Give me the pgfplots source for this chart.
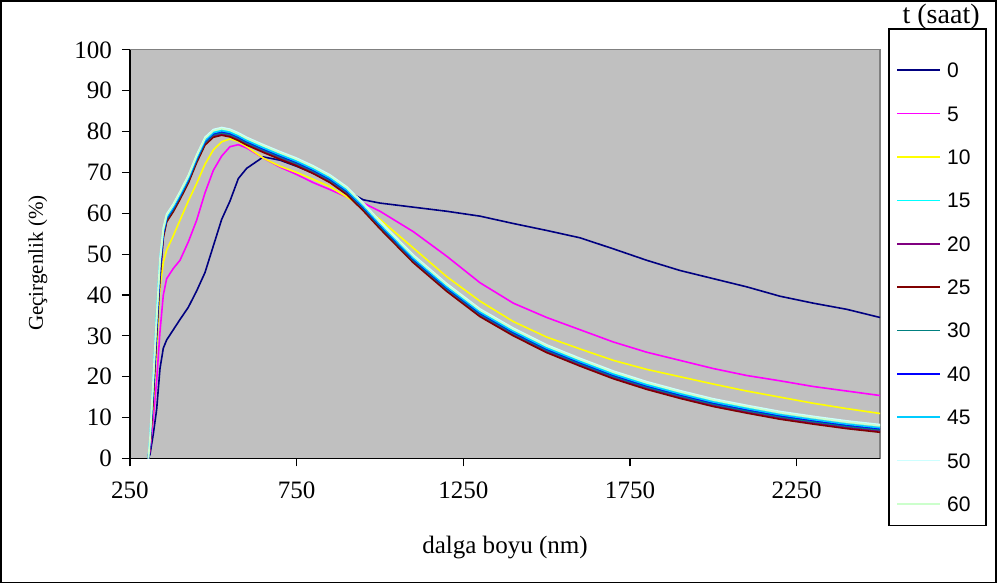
\documentclass[border=0pt]{standalone}
\usepackage{fontspec}
\setmainfont{Liberation Serif}
\newfontfamily\legfont{Liberation Sans}
\usepackage{pgfplots}
\usepackage{pgfplotstable}
\pgfplotsset{compat=1.18}

\definecolor{plotbg}{HTML}{C0C0C0}
\definecolor{c0}{HTML}{000080}
\definecolor{c5}{HTML}{FF00FF}
\definecolor{c10}{HTML}{FFFF00}
\definecolor{c15}{HTML}{00FFFF}
\definecolor{c20}{HTML}{800080}
\definecolor{c25}{HTML}{800000}
\definecolor{c30}{HTML}{008080}
\definecolor{c40}{HTML}{0000FF}
\definecolor{c45}{HTML}{00CCFF}
\definecolor{c50}{HTML}{CCFFFF}
\definecolor{c60}{HTML}{CCFFCC}

% transmittance (%) vs wavelength (nm), one column per time (h)
\pgfplotstableread{
x    s0   s5   s10  s15  s20  s25  s30  s40  s45  s50  s60
305  0    0    0    0    0    0    0    0    0    0    0
310  1    2    3    5    3    3    4    3.5  4.5  5    4.5
320  6    10   14   20   16   15   17   17   19   20   19
330  12   19   28   36   31   30   32   32   34   35   34
340  22   31   42   49   45   44   46   46   48   49   48
350  27   40   48   56   54.5 54   55   55   55.5 56.5 56
360  29   44   51   59.3 58.2 57.9 58.5 58.8 59   59.8 59.5
380  31.5 46.5 54.5 61.8 60.7 60.4 61   61.3 61.5 62.3 62
400  34   48.5 58.3 64.8 63.7 63.4 64   64.3 64.5 65.3 65
425  37   53   63   68.8 67.7 67.4 68   68.3 68.5 69.3 69
450  41   58.3 67.3 73.8 72.7 72.4 73   73.3 73.5 74.3 74
475  45.5 65   72   78.1 77   76.7 77.3 77.6 77.8 78.6 78.3
500  52   70.5 75.5 80   78.9 78.6 79.2 79.5 79.7 80.5 80.2
525  58.5 74   77.5 80.5 79.4 79.1 79.7 80   80.2 81   80.7
550  63   76.3 78.2 80.1 79   78.7 79.3 79.6 79.8 80.6 80.3
575  68.5 76.8 77.6 79.2 78.1 77.8 78.4 78.7 78.9 79.7 79.4
600  71   76   76.3 78.1 77   76.7 77.3 77.6 77.8 78.6 78.3
650  73.8 73.5 73.5 76.3 75.2 74.9 75.5 75.8 76   76.8 76.5
700  73   71.3 71.5 74.6 73.5 73.2 73.8 74.1 74.3 75.1 74.8
750  71.5 69.5 70   73   71.9 71.6 72.2 72.5 72.7 73.5 73.2
800  69.8 67.5 68.3 71.1 70   69.7 70.3 70.6 70.8 71.6 71.3
850  68   65.8 66.5 68.9 67.8 67.5 68.1 68.4 68.6 69.4 69.1
900  65.5 64   64   66   64.9 64.6 65.2 65.5 65.7 66.5 66.2
950  63.3 62.5 61.5 62   60.9 60.6 61.2 61.5 61.7 62.5 62.2
1000 62.5 60.5 58.5 57.6 56.5 56.2 56.8 57.1 57.3 58.1 57.8
1100 61.5 55.5 51.5 49.3 48.2 47.9 48.5 48.8 49   49.8 49.5
1200 60.5 49.5 44.5 42.3 41.2 40.9 41.5 41.8 42   42.8 42.5
1300 59.3 43   38.5 36.1 35   34.7 35.3 35.6 35.8 36.6 36.3
1400 57.5 38   33.5 31.4 30.3 30   30.6 30.9 31.1 31.9 31.6
1500 55.8 34.5 29.7 27.3 26.2 25.9 26.5 26.8 27   27.8 27.5
1600 54   31.5 26.8 24   22.9 22.6 23.2 23.5 23.7 24.5 24.2
1700 51.3 28.5 24   20.9 19.8 19.5 20.1 20.4 20.6 21.4 21.1
1800 48.5 26   21.8 18.3 17.2 16.9 17.5 17.8 18   18.8 18.5
1900 46   24   20   16.2 15   14.7 15.3 15.6 15.8 16.6 16.3
2000 44   22   18.2 14.2 13   12.7 13.3 13.6 13.8 14.6 14.3
2100 42   20.3 16.5 12.6 11.4 11.1 11.7 12   12.2 13   12.7
2200 39.7 19   15   11.2 9.9  9.6  10.2 10.5 10.7 11.5 11.2
2300 38   17.6 13.5 10   8.7  8.4  9    9.3  9.5  10.3 10
2400 36.5 16.5 12.2 8.9  7.6  7.3  7.9  8.2  8.4  9.2  8.9
2500 34.5 15.4 11   8    6.7  6.4  7    7.3  7.5  8.3  8
}\spectra

\begin{document}
\begin{tikzpicture}
\begin{axis}[
    name=ax,
    scale only axis,
    width=374.5pt, height=204pt,
    xmin=250, xmax=2500,
    ymin=0, ymax=100,
    xtick={250,750,...,2250},
    ytick={0,10,...,100},
    axis x line*=bottom, axis y line*=left,
    axis line style={-, black, line width=0.8pt},
    axis background/.style={fill=plotbg, draw=gray, line width=0.6pt},
    tick align=outside,
    major tick length=4pt,
    tick style={black, line width=0.6pt},
    /pgf/number format/1000 sep={},
    /pgf/number format/assume math mode=true,
    ticklabel style={font=\fontsize{12.5}{14}\selectfont},
    xticklabel style={yshift=-4pt},
    yticklabel style={xshift=-1.5pt},
    xlabel={dalga boyu (nm)},
    ylabel={Geçirgenlik (\%)},
    xlabel style={font=\fontsize{12.5}{14}\selectfont, at={(axis description cs:0.5,-0.218)}, anchor=center},
    ylabel style={font=\fontsize{10.5}{12}\selectfont, at={(axis description cs:-0.1228,0.478)}, anchor=center},
    legend style={at={(axis description cs:1.0214,0.9694)}, anchor=north west,
        draw=none, fill=none, inner xsep=0pt, inner ysep=0pt,
        row sep=14.15pt,
        nodes={inner sep=0pt, text height=7.5pt, text depth=0pt},
        font=\legfont\fontsize{10.5}{12}\selectfont},
    legend cell align=left,
    legend image code/.code={\draw[#1] (0pt,0pt) -- (21.5pt,0pt);},
    every axis plot/.append style={line width=0.8pt},
]
\addplot[c0]  table[x=x, y=s0]  {\spectra}; \addlegendentry{\hspace{3pt}0}
\addplot[c5]  table[x=x, y=s5]  {\spectra}; \addlegendentry{\hspace{3pt}5}
\addplot[c10] table[x=x, y=s10] {\spectra}; \addlegendentry{\hspace{3pt}10}
\addplot[c15] table[x=x, y=s15] {\spectra}; \addlegendentry{\hspace{3pt}15}
\addplot[c20] table[x=x, y=s20] {\spectra}; \addlegendentry{\hspace{3pt}20}
\addplot[c25] table[x=x, y=s25] {\spectra}; \addlegendentry{\hspace{3pt}25}
\addplot[c30] table[x=x, y=s30] {\spectra}; \addlegendentry{\hspace{3pt}30}
\addplot[c40] table[x=x, y=s40] {\spectra}; \addlegendentry{\hspace{3pt}40}
\addplot[c45] table[x=x, y=s45] {\spectra}; \addlegendentry{\hspace{3pt}45}
\addplot[c50] table[x=x, y=s50] {\spectra}; \addlegendentry{\hspace{3pt}50}
\addplot[c60] table[x=x, y=s60] {\spectra}; \addlegendentry{\hspace{3pt}60}
\end{axis}
% legend title
\node[font=\fontsize{14}{16}\selectfont, inner sep=0pt, anchor=center] at ([xshift=30.5pt,yshift=16.5pt]ax.north east) {t (saat)};
% legend frame
\draw[black, line width=0.8pt] ([xshift=4.5pt,yshift=10.5pt]ax.north east) rectangle ([xshift=53pt,yshift=-33.5pt]ax.south east);
% outer chart frame
\draw[black, line width=0.8pt] ([xshift=-64.5pt,yshift=-62pt]ax.south west) rectangle ([xshift=58pt,yshift=24.5pt]ax.north east);
\end{tikzpicture}
\end{document}
